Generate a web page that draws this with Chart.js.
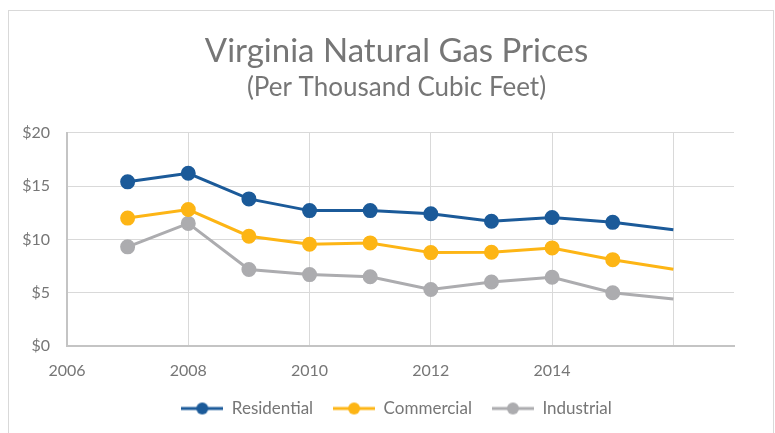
<!DOCTYPE html>
<html>
<head>
<meta charset="utf-8">
<script src="https://cdn.jsdelivr.net/npm/chart.js@4"></script>
<style>
  body { margin: 0; background: #fff; }
  #frame { position: absolute; left: 8px; top: 10px; width: 764px; height: 440px; border: 1.5px solid #d9d9d9; }
  #wrap { position: absolute; left: 0; top: 0; width: 775px; height: 433px; }
</style>
</head>
<body>
<div id="frame"></div>
<div id="wrap"><canvas id="chart"></canvas></div>
<script>
// Data
const years = [2007, 2008, 2009, 2010, 2011, 2012, 2013, 2014, 2015, 2016];
const residential = [15.4, 16.2, 13.8, 12.7, 12.7, 12.4, 11.7, 12.05, 11.6, 10.9];
const commercial = [12.0, 12.8, 10.3, 9.55, 9.67, 8.76, 8.8, 9.2, 8.1, 7.2];
const industrial = [9.3, 11.5, 7.17, 6.7, 6.5, 5.3, 6.0, 6.45, 5.0, 4.4];

const textGray = '#767676';

// legend icon: line with a dot in the middle
function legendIcon(color) {
  const c = document.createElement('canvas');
  c.width = 42; c.height = 14;
  const g = c.getContext('2d');
  g.strokeStyle = color; g.lineWidth = 3;
  g.beginPath(); g.moveTo(0, 7); g.lineTo(42, 7); g.stroke();
  g.fillStyle = color;
  g.beginPath(); g.arc(21, 7, 6, 0, Math.PI * 2); g.fill();
  return c;
}

function makeSeries(label, values, color) {
  return {
    label: label,
    data: years.map((y, i) => ({ x: y, y: values[i] })),
    borderColor: color,
    backgroundColor: color,
    borderWidth: 3,
    pointRadius: years.map((y, i) => (i === years.length - 1 ? 0 : 6)),
    pointHoverRadius: 6,
    pointStyle: 'circle',
    legendIcon: legendIcon(color),
    tension: 0,
  };
}

document.addEventListener('DOMContentLoaded', function () {
  const ctx = document.getElementById('chart').getContext('2d');

  new Chart(ctx, {
    type: 'line',
    data: {
      datasets: [
        makeSeries('Residential', residential, '#1b5a99'),
        makeSeries('Commercial', commercial, '#fdb515'),
        makeSeries('Industrial', industrial, '#acacaf'),
      ],
    },
    options: {
      responsive: true,
      maintainAspectRatio: false,
      animation: false,
      layout: { padding: { left: 18, right: 0, top: 32, bottom: 6 } },
      scales: {
        x: {
          type: 'linear',
          min: 2006,
          max: 2017,
          grid: { color: '#d9d9d9', lineWidth: 1, drawTicks: false },
          border: { color: '#c4c4c4', width: 2 },
          ticks: {
            stepSize: 2,
            includeBounds: false,
            padding: 15,
            color: textGray,
            font: { family: 'Lato', size: 16 },
            callback: (v) => (v === 2016 ? '' : String(v)),
          },
          afterFit: (s) => { s.height = 34; },
        },
        y: {
          min: 0,
          max: 20,
          grid: { color: '#d9d9d9', lineWidth: 1, drawTicks: false },
          border: { color: '#c4c4c4', width: 2 },
          ticks: {
            stepSize: 5,
            padding: 17,
            color: textGray,
            font: { family: 'Lato', size: 16 },
            callback: (v) => '$' + v,
          },
          afterFit: (s) => { s.width = 49; },
        },
        // empty spacer on the right so the plot ends short of the frame
        spacer: {
          type: 'linear',
          position: 'right',
          grid: { display: false },
          border: { display: false },
          ticks: { display: false },
          afterFit: (s) => { s.width = 41; },
        },
      },
      plugins: {
        title: {
          display: true,
          text: 'Virginia Natural Gas Prices',
          color: textGray,
          font: { family: 'Lato', size: 33, weight: 'normal' },
          padding: { top: 0, bottom: 0 },
        },
        subtitle: {
          display: true,
          text: '(Per Thousand Cubic Feet)',
          color: textGray,
          font: { family: 'Lato', size: 26, weight: 'normal' },
          padding: { top: 0, bottom: 30 },
        },
        legend: {
          position: 'bottom',
          labels: {
            usePointStyle: true,
            pointStyleWidth: 42,
            color: textGray,
            font: { family: 'Lato', size: 17 },
            padding: 20,
            generateLabels: (chart) =>
              chart.data.datasets.map((d, i) => ({
                text: d.label,
                pointStyle: d.legendIcon,
                fontColor: textGray,
                datasetIndex: i,
                lineWidth: 0,
              })),
          },
        },
        tooltip: { enabled: false },
      },
    },
  });
});
</script>
</body>
</html>
